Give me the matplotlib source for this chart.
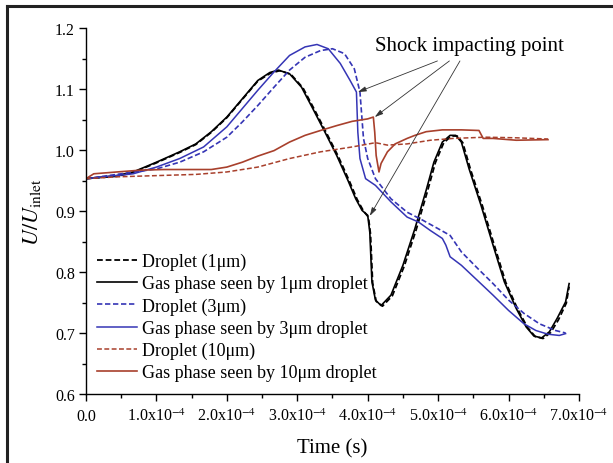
import matplotlib
matplotlib.use('Agg')
import matplotlib.pyplot as plt
from matplotlib.lines import Line2D
import numpy as np

plt.rcParams['font.family'] = ['Liberation Serif', 'DejaVu Serif']
plt.rcParams['mathtext.fontset'] = 'stix'

# time values are in units of 1e-4 s
t_gas1 = [0, 0.44, 0.67, 1.0, 1.33, 1.56, 1.78, 2.0, 2.22, 2.44, 2.61, 2.73, 2.89, 3.06, 3.22,
          3.39, 3.56, 3.72, 3.83, 3.92, 4.0, 4.03, 4.06, 4.11, 4.19, 4.33, 4.5, 4.67, 4.83,
          4.94, 5.06, 5.17, 5.25, 5.33, 5.44, 5.61, 5.78, 5.94, 6.11, 6.25, 6.36, 6.47,
          6.58, 6.69, 6.81, 6.86]
u_gas1 = [0.953, 0.958, 0.964, 0.980, 0.997, 1.010, 1.030, 1.054, 1.084, 1.114, 1.127, 1.131,
          1.125, 1.103, 1.068, 1.030, 0.991, 0.950, 0.920, 0.901, 0.893, 0.865, 0.784, 0.754,
          0.745, 0.762, 0.811, 0.871, 0.934, 0.980, 1.013, 1.024, 1.024, 1.013, 0.969, 0.909,
          0.844, 0.784, 0.740, 0.710, 0.695, 0.692, 0.702, 0.724, 0.751, 0.781]

t_drop1 = [0, 0.44, 0.67, 1.0, 1.33, 1.56, 1.78, 2.0, 2.22, 2.44, 2.62, 2.75, 2.91, 3.08, 3.24,
           3.41, 3.58, 3.74, 3.85, 3.94, 4.01, 4.04, 4.07, 4.12, 4.21, 4.35, 4.52, 4.69, 4.85,
           4.96, 5.08, 5.19, 5.27, 5.35, 5.46, 5.63, 5.80, 5.96, 6.13, 6.27, 6.38, 6.49,
           6.60, 6.71, 6.82, 6.86]
u_drop1 = [0.953, 0.957, 0.963, 0.979, 0.996, 1.009, 1.029, 1.053, 1.083, 1.113, 1.126, 1.130,
           1.124, 1.102, 1.067, 1.029, 0.990, 0.949, 0.919, 0.900, 0.890, 0.862, 0.782, 0.752,
           0.744, 0.761, 0.810, 0.870, 0.933, 0.979, 1.012, 1.023, 1.023, 1.012, 0.968, 0.908,
           0.843, 0.783, 0.739, 0.709, 0.694, 0.691, 0.701, 0.722, 0.749, 0.776]

t_gas3 = [0, 0.67, 1.0, 1.33, 1.67, 2.0, 2.22, 2.44, 2.67, 2.89, 3.11, 3.28, 3.44, 3.61, 3.75,
          3.84, 3.86, 3.89, 3.97, 4.11, 4.33, 4.56, 4.72, 4.89, 5.06, 5.11, 5.17, 5.33, 5.56,
          5.78, 6.0, 6.22, 6.39, 6.56, 6.72, 6.81]
u_gas3 = [0.953, 0.961, 0.972, 0.986, 1.005, 1.038, 1.068, 1.098, 1.128, 1.155, 1.169, 1.173,
          1.166, 1.142, 1.114, 1.095, 1.029, 0.986, 0.953, 0.942, 0.915, 0.890, 0.882, 0.868,
          0.855, 0.844, 0.825, 0.811, 0.786, 0.762, 0.737, 0.715, 0.704, 0.698, 0.696, 0.699]

t_drop3 = [0, 1.0, 1.33, 1.67, 2.0, 2.22, 2.44, 2.67, 2.89, 3.11, 3.33, 3.5, 3.67, 3.81, 3.89,
           3.94, 4.0, 4.11, 4.33, 4.56, 4.78, 5.0, 5.17, 5.33, 5.56, 5.78, 6.0, 6.22, 6.44,
           6.67, 6.81]
u_drop3 = [0.953, 0.969, 0.980, 0.997, 1.021, 1.046, 1.073, 1.103, 1.131, 1.152, 1.163, 1.166,
           1.158, 1.133, 1.095, 1.019, 0.986, 0.953, 0.920, 0.898, 0.885, 0.871, 0.860, 0.833,
           0.806, 0.781, 0.754, 0.732, 0.715, 0.704, 0.700]

t_gas10 = [0, 0.11, 0.44, 0.78, 1.11, 1.44, 1.78, 2.0, 2.22, 2.44, 2.67, 2.89, 3.11, 3.33,
           3.56, 3.78, 4.0, 4.08, 4.10, 4.12, 4.16, 4.19, 4.28, 4.39, 4.56, 4.67, 4.83, 5.06,
           5.33, 5.58, 5.64, 5.78, 6.11, 6.56]
u_gas10 = [0.953, 0.961, 0.964, 0.967, 0.968, 0.968, 0.968, 0.972, 0.980, 0.990, 0.999, 1.013,
           1.024, 1.032, 1.040, 1.047, 1.051, 1.054, 1.029, 0.991, 0.964, 0.978, 0.997, 1.010,
           1.019, 1.024, 1.030, 1.033, 1.033, 1.032, 1.019, 1.019, 1.016, 1.017]

t_drop10 = [0, 0.44, 1.0, 1.56, 2.0, 2.44, 2.89, 3.33, 3.78, 4.11, 4.28, 4.56, 4.89, 5.22,
            5.67, 6.11, 6.56]
u_drop10 = [0.953, 0.956, 0.958, 0.960, 0.964, 0.972, 0.986, 0.997, 1.005, 1.012, 1.008,
            1.010, 1.016, 1.019, 1.021, 1.020, 1.018]

arrow_tails = [(4.99, 1.146), (5.16, 1.146), (5.31, 1.146)]
arrow_heads = [(3.86, 1.095), (4.10, 1.054), (4.03, 0.892)]

xtick_vals = [0, 1, 2, 3, 4, 5, 6, 7]
xtick_labels = ['0.0'] + ['%d.0x10$^{-4}$' % v for v in xtick_vals[1:]]

black = 'black'
blue = '#3535b5'
red = '#a8402c'
dash = (3.2, 1.6)

fig = plt.figure(figsize=(6.13, 4.64), dpi=100)
ax = fig.add_axes([0.1403, 0.1487, 0.8042, 0.7888])

sec = 1e-4
ax.plot(np.array(t_drop1) * sec, u_drop1, color=black, lw=1.3, dashes=dash, label='Droplet (1μm)')
ax.plot(np.array(t_gas1) * sec, u_gas1, color=black, lw=1.2, label='Gas phase seen by 1μm droplet')
ax.plot(np.array(t_drop3) * sec, u_drop3, color=blue, lw=1.2, dashes=dash, label='Droplet (3μm)')
ax.plot(np.array(t_gas3) * sec, u_gas3, color=blue, lw=1.1, label='Gas phase seen by 3μm droplet')
ax.plot(np.array(t_drop10) * sec, u_drop10, color=red, lw=1.1, dashes=dash, label='Droplet (10μm)')
ax.plot(np.array(t_gas10) * sec, u_gas10, color=red, lw=1.2, label='Gas phase seen by 10μm droplet')

for (tx, ty), (hx, hy) in zip(arrow_tails, arrow_heads):
    ax.annotate('', xy=(hx * sec, hy), xytext=(tx * sec, ty),
                arrowprops=dict(arrowstyle='-|>,head_length=0.5,head_width=0.15',
                                color='#333333', lw=0.6, shrinkA=0, shrinkB=0))
ax.text(5.44e-4, 1.172, 'Shock impacting point', fontsize=15, ha='center', va='center')

ax.set_xlim(0, 7e-4)
ax.set_ylim(0.6, 1.2)
ax.set_xticks([v * sec for v in xtick_vals])
ax.set_xticklabels(xtick_labels)
ax.set_xticks(np.arange(0.5, 7, 1) * sec, minor=True)
ax.set_yticks([0.6, 0.7, 0.8, 0.9, 1.0, 1.1, 1.2])
ax.set_yticks(np.arange(0.65, 1.2, 0.1), minor=True)
ax.tick_params(which='major', direction='out', length=5, width=1, labelsize=11.5, pad=3)
ax.tick_params(axis='x', which='major', pad=5)
ax.tick_params(which='minor', direction='out', length=3, width=1)
for s in ['top', 'right']:
    ax.spines[s].set_visible(False)
for s in ['left', 'bottom']:
    ax.spines[s].set_linewidth(1.0)

ax.set_xlabel('Time (s)', fontsize=15, labelpad=10)
ax.set_ylabel(r'$U/U_{\rm inlet}$', fontsize=16, labelpad=9)

leg = ax.legend(loc='lower left', bbox_to_anchor=(0.0, 0.005), frameon=False, fontsize=13,
                handlelength=2.2, handletextpad=0.3, labelspacing=0.28, borderaxespad=0.2)

# outer frame, only its left and top edges fall inside the picture
fig.add_artist(Line2D([7 / 613, 7 / 613], [0, 1 - 7 / 464], transform=fig.transFigure,
                      color='#222222', lw=2.2))
fig.add_artist(Line2D([7 / 613, 1], [1 - 7 / 464, 1 - 7 / 464], transform=fig.transFigure,
                      color='#222222', lw=2.2, solid_capstyle='projecting'))

fig.savefig('out.png', dpi=100)
